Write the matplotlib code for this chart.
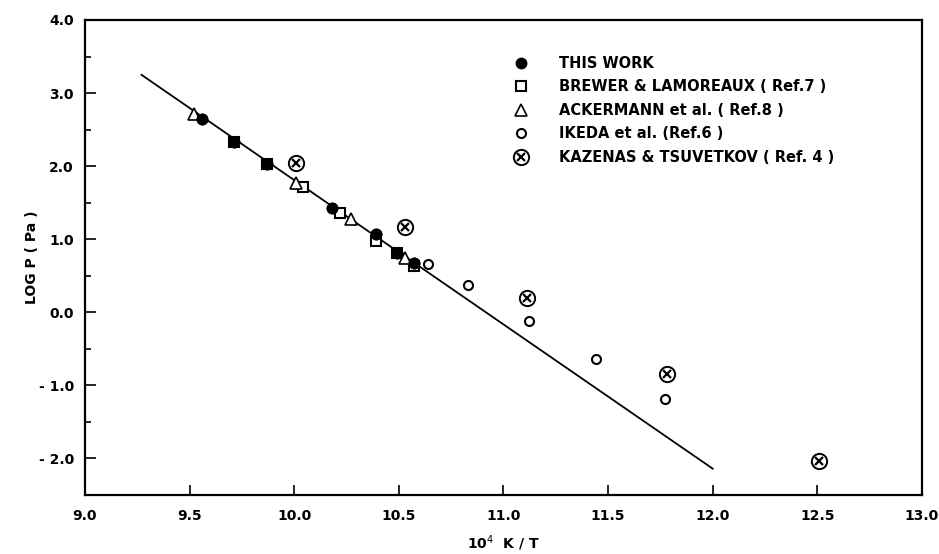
import matplotlib
matplotlib.use('Agg')
import matplotlib.pyplot as plt
from matplotlib.legend_handler import HandlerTuple

# data
this_work_x = [9.56, 9.71, 9.87, 10.18, 10.39, 10.49, 10.57]
this_work_y = [2.65, 2.33, 2.03, 1.43, 1.07, 0.81, 0.68]

brewer_x = [9.71, 9.87, 10.04, 10.22, 10.39, 10.49, 10.57]
brewer_y = [2.33, 2.03, 1.72, 1.36, 0.98, 0.81, 0.63]

ackermann_x = [9.52, 10.01, 10.27, 10.53]
ackermann_y = [2.71, 1.77, 1.28, 0.74]

ikeda_x = [10.64, 10.83, 11.12, 11.44, 11.77]
ikeda_y = [0.66, 0.38, -0.12, -0.64, -1.19]

kazenas_x = [10.01, 10.53, 11.11, 11.78, 12.51]
kazenas_y = [2.04, 1.17, 0.20, -0.84, -2.03]

fit_x = [9.27, 12.0]
fit_y = [3.25, -2.14]

x_ticks = [9.0, 9.5, 10.0, 10.5, 11.0, 11.5, 12.0, 12.5, 13.0]
y_ticks = [-2.0, -1.0, 0.0, 1.0, 2.0, 3.0, 4.0]
y_tick_labels = ['- 2.0', '- 1.0', '0.0', '1.0', '2.0', '3.0', '4.0']

plt.rcParams['font.family'] = ['DejaVu Sans']

fig = plt.figure(figsize=(9.39, 5.54), dpi=100)
ax = fig.add_axes([0.0905, 0.1065, 0.8914, 0.8574])

ax.plot(fit_x, fit_y, color='black', lw=1.3, zorder=1)

h1, = ax.plot(this_work_x, this_work_y, 'o', color='black', ms=7.5, ls='none', zorder=3)
h2, = ax.plot(brewer_x, brewer_y, 's', mfc='white', mec='black', mew=1.5, ms=7.5, ls='none', zorder=2)
h3, = ax.plot(ackermann_x, ackermann_y, '^', mfc='white', mec='black', mew=1.2, ms=8, ls='none', zorder=2)
h4, = ax.plot(ikeda_x, ikeda_y, 'o', mfc='white', mec='black', mew=1.5, ms=6.5, ls='none', zorder=2)
h5a, = ax.plot(kazenas_x, kazenas_y, 'o', mfc='white', mec='black', mew=1.4, ms=11, ls='none', zorder=2)
h5b, = ax.plot(kazenas_x, kazenas_y, 'x', color='black', mew=1.6, ms=6, ls='none', zorder=3)
# redraw this work on top of the squares
ax.plot(this_work_x, this_work_y, 'o', color='black', ms=7.5, ls='none', zorder=4)

ax.set_xlim(9.0, 13.0)
ax.set_ylim(-2.5, 4.0)

ax.set_xticks(x_ticks)
ax.set_xticklabels(['%.1f' % v for v in x_ticks], fontsize=10, fontweight='bold')
ax.set_yticks(y_ticks)
ax.set_yticklabels(y_tick_labels, fontsize=10, fontweight='bold')
ax.set_yticks([-1.5, -0.5, 0.5, 1.5, 2.5, 3.5], minor=True)

ax.tick_params(axis='x', direction='in', length=7, width=1.2, pad=10)
ax.tick_params(axis='y', which='major', direction='in', length=8, width=1.2, pad=8)
ax.tick_params(axis='y', which='minor', direction='in', length=4.5, width=1.2)

for s in ax.spines.values():
    s.set_linewidth(1.6)

ax.set_xlabel('10$^4$  K / T', fontsize=10, fontweight='bold')
ax.set_ylabel('LOG P ( Pa )', fontsize=10, fontweight='bold')
ax.xaxis.set_label_coords(0.5, -0.08)
ax.yaxis.set_label_coords(-0.055, 0.5)

labels = ['THIS WORK', 'BREWER & LAMOREAUX ( Ref.7 )', 'ACKERMANN et al. ( Ref.8 )',
          'IKEDA et al. (Ref.6 )', 'KAZENAS & TSUVETKOV ( Ref. 4 )']
leg = ax.legend([h1, h2, h3, h4, (h5a, h5b)], labels,
                handler_map={tuple: HandlerTuple(ndivide=1)},
                loc='upper left', bbox_to_anchor=(0.495, 0.952), frameon=False,
                handlelength=1.2, handletextpad=2.0, labelspacing=0.58,
                prop={'size': 10.5, 'weight': 'bold'})

fig.savefig('out.png', dpi=100)
